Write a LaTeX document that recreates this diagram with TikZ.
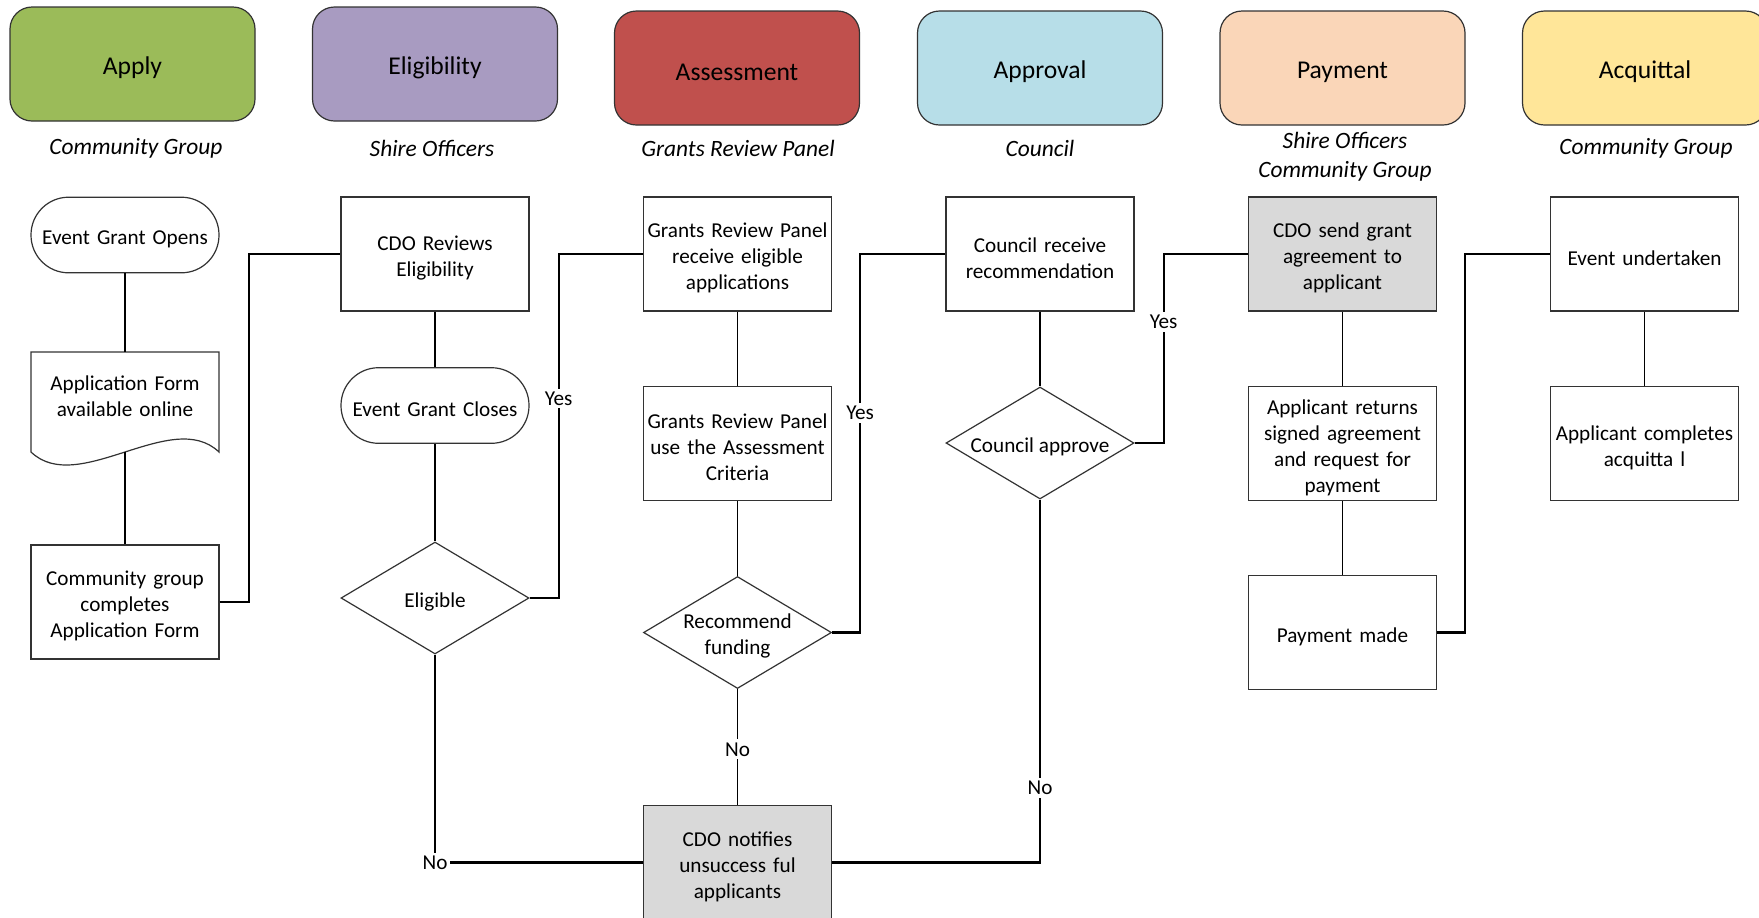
\documentclass[tikz,border=0pt]{standalone}
\usepackage{fontspec}
\setmainfont{Carlito}
\usetikzlibrary{shapes.geometric}
\definecolor{cApply}{HTML}{9BBB59}
\definecolor{cElig}{HTML}{A89BC1}
\definecolor{cAssess}{HTML}{C0504D}
\definecolor{cAppr}{HTML}{B7DEE8}
\definecolor{cPay}{HTML}{FAD6B8}
\definecolor{cAcq}{HTML}{FFE699}
\definecolor{cGray}{HTML}{D9D9D9}
\tikzset{
  bodyfont/.style={font=\fontsize{10.6}{13}\selectfont},
  lowtext/.style={execute at begin node={\rule{0pt}{11.3pt}}},
  hdr/.style={draw=black!80, line width=0.6pt, rounded corners=11pt, minimum width=122.5pt, minimum height=57pt, font=\fontsize{12.8}{15}\selectfont, execute at begin node={\rule{0pt}{13pt}}},
  role/.style={font=\fontsize{11.7}{14.4}\selectfont\itshape, align=center, inner sep=0pt},
  proc/.style={draw=black!80, line width=0.6pt, fill=white, minimum width=94pt, minimum height=57pt, text width=92pt, align=center, bodyfont, inner sep=1pt, lowtext},
  term/.style={proc, rounded corners=18.8pt, minimum height=37.8pt},
  dec/.style={diamond, draw=black!80, line width=0.6pt, fill=white, minimum width=94pt, minimum height=56pt, aspect=1.68, inner sep=-4pt, align=center, bodyfont, lowtext},
  link/.style={line width=0.9pt},
  elbow/.style={line width=1.1pt},
  lbl/.style={fill=white, inner sep=1.5pt, bodyfont},
}
\begin{document}
\begin{tikzpicture}[x=0.5pt, y=-0.5pt]
\useasboundingbox (0,0) rectangle (1759,917);
\fill[white] (0,0) rectangle (1759,917);

% phase headers
\node[hdr, fill=cApply] (hApply) at (132.5,64) {Apply};
\node[hdr, fill=cElig] (hElig) at (435,64) {Eligibility};
\node[hdr, fill=cAssess] (hAssess) at (737,68) {Assessment};
\node[hdr, fill=cAppr] (hAppr) at (1040,68) {Approval};
\node[hdr, fill=cPay] (hPay) at (1342.5,68) {Payment};
\node[hdr, fill=cAcq] (hAcq) at (1645,68) {Acquittal};

% roles
\node[role] (r1) at (136,148) {Community Group};
\node[role] (r2) at (432,148) {Shire Officers};
\node[role] (r3) at (738,148) {Grants Review Panel};
\node[role] (r4) at (1040,148) {Council};
\node[role] (r5) at (1345,157) {Shire Officers\\Community Group};
\node[role] (r6) at (1646,148) {Community Group};

% row 1
\node[term] (open) at (125,235) {Event Grant Opens};
\node[proc] (review) at (435,254) {CDO Reviews\\Eligibility};
\node[proc] (grp1) at (737.5,254) {Grants Review Panel\\receive eligible\\applications};
\node[proc] (crec) at (1040,254) {Council receive\\recommendation};
\node[proc, fill=cGray] (send) at (1342.5,254) {CDO send grant\\agreement to\\applicant};
\node[proc] (undertaken) at (1644.5,254) {Event undertaken};

% row 2
\draw[draw=black!80, line width=0.6pt, fill=white] (31,352) -- (219,352) -- (219,452) .. controls (172,407) and (78,497) .. (31,452) -- cycle;
\node[minimum width=94pt, minimum height=40pt, text width=92pt, align=center, bodyfont, inner sep=0pt, lowtext] (form) at (125,392) {Application Form\\available online};
\coordinate (formtop) at (125,352);
\coordinate (formbot) at (125,452);
\node[term] (close) at (435,405.5) {Event Grant Closes};
\node[proc] (grp2) at (737.5,443.5) {Grants Review Panel\\use the Assessment\\Criteria};
\node[dec] (capprove) at (1040,443) {Council approve};
\node[proc] (returns) at (1342.5,443.5) {Applicant returns\\signed agreement\\and request for\\payment};
\node[proc] (acq) at (1644.5,443.5) {Applicant completes\\acquitta l};

% row 3
\node[proc] (complete) at (125,602) {Community group\\completes\\Application Form};
\node[dec] (eligible) at (435,598) {Eligible};
\node[dec, text width=58pt] (recommend) at (737.5,632.5) {Recommend\\funding};
\node[proc] (paid) at (1342.5,632.5) {Payment made};

% row 4
\node[proc, fill=cGray] (notify) at (737.5,862.5) {CDO notifies\\unsuccess ful\\applicants};

% connectors
\draw[link] (open.south) -- (formtop);
\draw[link] (formbot) -- (complete.north);
\draw[elbow] (complete.east) -- ++(29,0) |- (review.west);
\draw[link] (review) -- (close);
\draw[link] (close) -- (eligible);
\draw[elbow] (eligible.east) -- ++(29,0) |- node[lbl, pos=0.29]{Yes} (grp1.west);
\draw[link] (grp1) -- (grp2);
\draw[link] (grp2) -- (recommend);
\draw[elbow] (recommend.east) -- ++(28,0) |- node[lbl, pos=0.29]{Yes} (crec.west);
\draw[link] (recommend) -- node[lbl, pos=0.52]{No} (notify);
\draw[elbow] (eligible.south) |- node[lbl, pos=0.5]{No} (notify.west);
\draw[link] (crec) -- (capprove);
\draw[elbow] (capprove.east) -- ++(29,0) |- node[lbl, pos=0.32]{Yes} (send.west);
\draw[elbow] (capprove.south) |- node[lbl, pos=0.3975]{No} (notify.east);
\draw[link] (send) -- (returns);
\draw[link] (returns) -- (paid);
\draw[elbow] (paid.east) -- ++(28,0) |- (undertaken.west);
\draw[link] (undertaken) -- (acq);
\end{tikzpicture}
\end{document}
